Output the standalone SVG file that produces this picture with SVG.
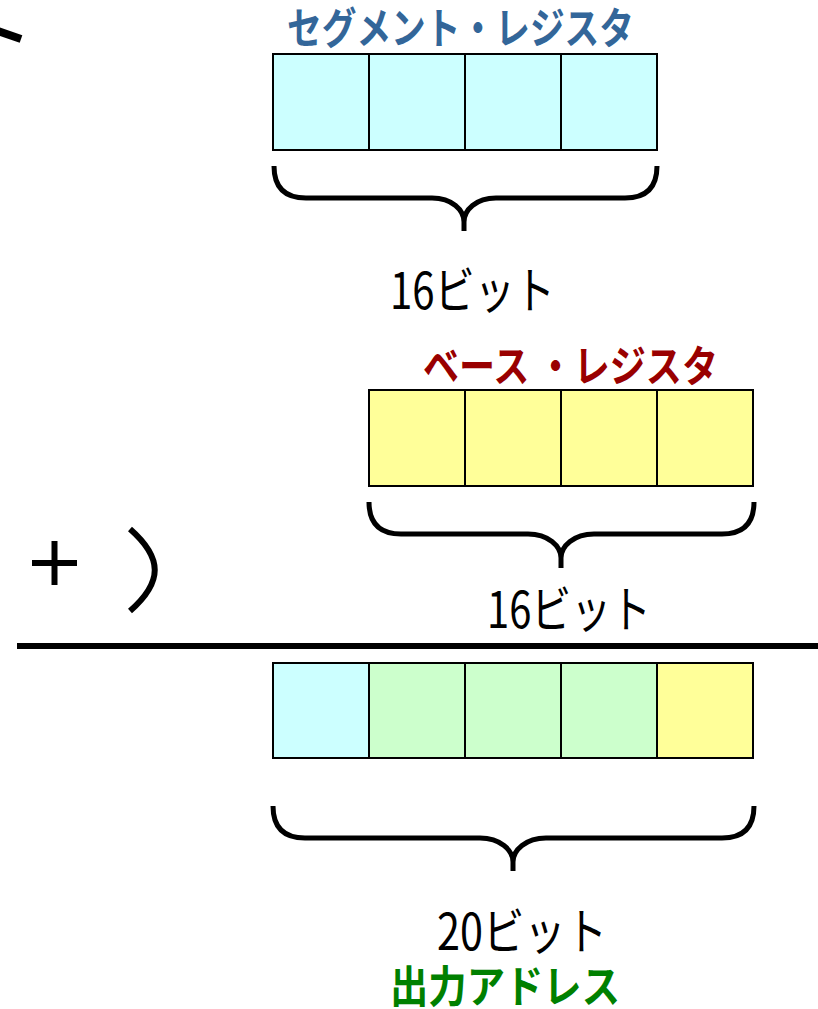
<svg xmlns="http://www.w3.org/2000/svg" width="818" height="1009" viewBox="0 0 818 1009">
  <style>
    .cell { stroke: #000; stroke-width: 2; }
    .cyan { fill: #CCFFFF; }
    .yellow { fill: #FFFF99; }
    .green { fill: #CCFFCC; }
    .brace { fill: none; stroke: #000; stroke-width: 5; stroke-linecap: butt; }
    .title { font-family: "Noto Sans CJK JP", "Noto Sans", sans-serif; font-weight: bold; }
    .bits { font-family: "Noto Sans CJK JP", "Noto Sans", sans-serif; font-size: 50px; fill: #000; }
  </style>

  <rect width="818" height="1009" fill="#fff"/>

  <!-- stray stroke at top-left -->
  <line x1="-2" y1="31" x2="21" y2="39" stroke="#000" stroke-width="8"/>

  <!-- segment register -->
  <g id="segment-register">
    <text class="title" x="287" y="44" font-size="43" fill="#336699" textLength="347" lengthAdjust="spacingAndGlyphs">セグメント・レジスタ</text>
    <rect class="cell cyan" x="273" y="54" width="96" height="96"/>
    <rect class="cell cyan" x="369" y="54" width="96" height="96"/>
    <rect class="cell cyan" x="465" y="54" width="96" height="96"/>
    <rect class="cell cyan" x="561" y="54" width="96" height="96"/>
    <path class="brace" d="M274,166 Q274,198 306,198 L432,198 C452,198 464,210 464,222 L464,231 M464,222 C464,210 476,198 496,198 L625,198 Q657,198 657,166"/>
    <text class="bits" x="390" y="309" textLength="165" lengthAdjust="spacingAndGlyphs">16ビット</text>
  </g>

  <!-- base register -->
  <g id="base-register">
    <text class="title" x="423" y="382" font-size="43" fill="#990000" textLength="295" lengthAdjust="spacingAndGlyphs">ベース ・レジスタ</text>
    <rect class="cell yellow" x="369" y="390" width="96" height="96"/>
    <rect class="cell yellow" x="465" y="390" width="96" height="96"/>
    <rect class="cell yellow" x="561" y="390" width="96" height="96"/>
    <rect class="cell yellow" x="657" y="390" width="96" height="96"/>
    <path class="brace" d="M369,502 Q369,534 401,534 L528,534 C548,534 561,546 561,558 L561,568 M561,558 C561,546 574,534 594,534 L722,534 Q754,534 754,502"/>
    <text class="bits" x="487" y="628" textLength="164" lengthAdjust="spacingAndGlyphs">16ビット</text>
  </g>

  <!-- addition sign "+ )" -->
  <g id="plus-sign">
    <line x1="32" y1="563" x2="77" y2="563" stroke="#000" stroke-width="6"/>
    <line x1="54.5" y1="541" x2="54.5" y2="585" stroke="#000" stroke-width="6"/>
    <path d="M130,529 C163,558 163,582 130,611" fill="none" stroke="#000" stroke-width="6"/>
  </g>

  <!-- sum line -->
  <line x1="17" y1="646" x2="818" y2="646" stroke="#000" stroke-width="6"/>

  <!-- output address -->
  <g id="output-address">
    <rect class="cell cyan" x="273" y="663" width="96" height="95"/>
    <rect class="cell green" x="369" y="663" width="96" height="95"/>
    <rect class="cell green" x="465" y="663" width="96" height="95"/>
    <rect class="cell green" x="561" y="663" width="96" height="95"/>
    <rect class="cell yellow" x="657" y="663" width="96" height="95"/>
    <path class="brace" d="M273,806 Q273,838 305,838 L480,838 C500,838 513,850 513,862 L513,871 M513,862 C513,850 526,838 546,838 L722,838 Q754,838 754,806"/>
    <text class="bits" x="437" y="950" textLength="170" lengthAdjust="spacingAndGlyphs">20ビット</text>
    <text class="title" x="390" y="1003" font-size="44" fill="#008000" textLength="230" lengthAdjust="spacingAndGlyphs">出力アドレス</text>
  </g>
</svg>
